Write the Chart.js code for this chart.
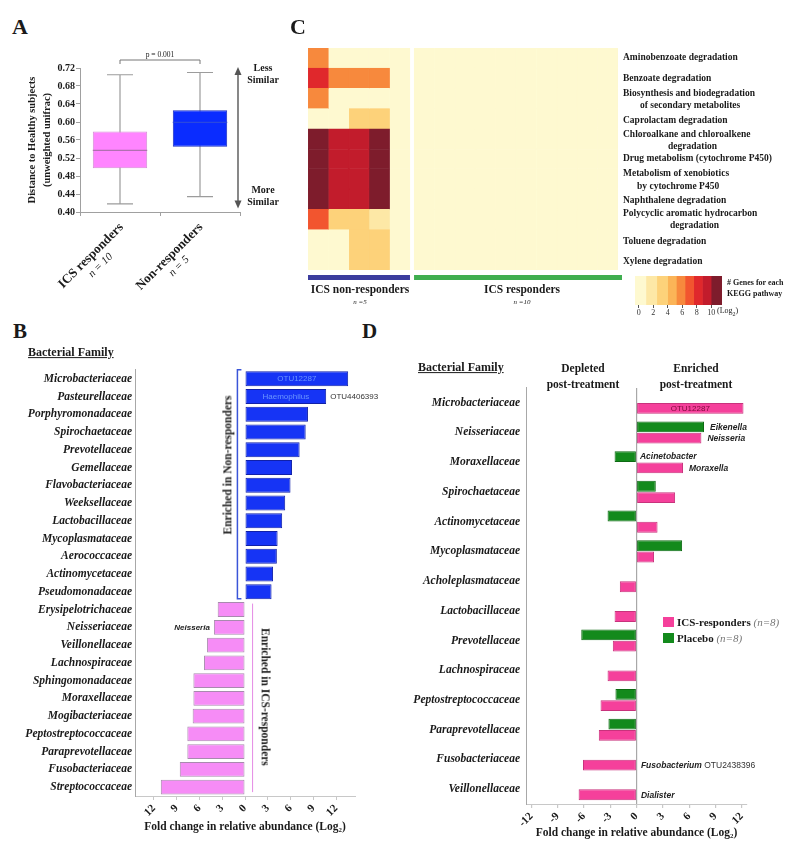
<!DOCTYPE html>
<html>
<head>
<meta charset="utf-8">
<script src="https://cdn.jsdelivr.net/npm/chart.js@4.4.0/dist/chart.umd.min.js"></script>
<style>
  html, body { margin: 0; padding: 0; background: #fff; }
  #fig { position: relative; width: 800px; height: 854px; overflow: hidden; font-family: "Liberation Serif", serif; color: #1a1a1a; }
  #fig canvas { position: absolute; }
  .t { position: absolute; white-space: nowrap; font-weight: bold; line-height: 1.15; }
</style>
</head>
<body>
<div id="fig">
  <canvas id="chartA" width="300" height="169" style="left:0;top:50px"></canvas>
  <canvas id="chartC" width="330" height="250" style="left:300px;top:40px"></canvas>
  <canvas id="chartScale" width="112" height="50" style="left:628px;top:270px"></canvas>
  <canvas id="chartB" width="400" height="480" style="left:0;top:360px"></canvas>
  <canvas id="chartD" width="400" height="479" style="left:400px;top:375px"></canvas>
</div>
<script>
// ---- panel A: distance to healthy subjects ----
const groupsA = ["ICS responders", "Non-responders"];
const nA = [10, 5];
const lowA = [0.418, 0.434];
const q1A = [0.497, 0.545];
const medianA = [0.537, 0.599];
const q3A = [0.579, 0.626];
const highA = [0.705, 0.71];
const ticksA = [0.40, 0.44, 0.48, 0.52, 0.56, 0.60, 0.64, 0.68, 0.72];

// ---- panel B: fold change non-responders vs ICS responders ----
const familiesB = ["Microbacteriaceae", "Pasteurellaceae", "Porphyromonadaceae", "Spirochaetaceae",
  "Prevotellaceae", "Gemellaceae", "Flavobacteriaceae", "Weeksellaceae", "Lactobacillaceae",
  "Mycoplasmataceae", "Aerococcaceae", "Actinomycetaceae", "Pseudomonadaceae", "Erysipelotrichaceae",
  "Neisseriaceae", "Veillonellaceae", "Lachnospiraceae", "Sphingomonadaceae", "Moraxellaceae",
  "Mogibacteriaceae", "Peptostreptococcaceae", "Paraprevotellaceae", "Fusobacteriaceae", "Streptococcaceae"];
const foldB = [13.6, 10.7, 8.3, 8.0, 7.2, 6.2, 6.0, 5.3, 4.9, 4.3, 4.2, 3.7, 3.5,
  -3.6, -4.1, -5.0, -5.4, -6.8, -6.8, -6.9, -7.6, -7.6, -8.6, -11.1];
const ticksB = [-12, -9, -6, -3, 0, 3, 6, 9, 12];

// ---- panel C: genes per KEGG pathway (log2) ----
const pathways = ["Aminobenzoate degradation", "Benzoate degradation",
  "Biosynthesis and biodegradation of secondary metabolites", "Caprolactam degradation",
  "Chloroalkane and chloroalkene degradation", "Drug metabolism (cytochrome P450)",
  "Metabolism of xenobiotics by cytochrome P450", "Naphthalene degradation",
  "Polycyclic aromatic hydrocarbon degradation", "Toluene degradation", "Xylene degradation"];
const nonResponderGenes = [
  [6, 0, 0, 0, 0],
  [8, 6, 6, 6, 0],
  [6, 0, 0, 0, 0],
  [0, 0, 3.5, 3.5, 0],
  [10.5, 9.3, 9.3, 10.5, 0],
  [10.5, 9.3, 9.3, 10.5, 0],
  [10.5, 9.3, 9.3, 10.5, 0],
  [10.5, 9.3, 9.3, 10.5, 0],
  [7, 3.5, 3.5, 2, 0],
  [0, 0, 3.5, 3.5, 0],
  [0, 0, 3.5, 3.5, 0]
];
const responderGenes = [
  [0, 0, 0, 0, 0, 0, 0, 0, 0, 0],
  [0, 0, 0, 0, 0, 0, 0, 0, 0, 0],
  [0, 0, 0, 0, 0, 0, 0, 0, 0, 0],
  [0, 0, 0, 0, 0, 0, 0, 0, 0, 0],
  [0, 0, 0, 0, 0, 0, 0, 0, 0, 0],
  [0, 0, 0, 0, 0, 0, 0, 0, 0, 0],
  [0, 0, 0, 0, 0, 0, 0, 0, 0, 0],
  [0, 0, 0, 0, 0, 0, 0, 0, 0, 0],
  [0, 0, 0, 0, 0, 0, 0, 0, 0, 0],
  [0, 0, 0, 0, 0, 0, 0, 0, 0, 0],
  [0, 0, 0, 0, 0, 0, 0, 0, 0, 0]
];
const scaleStops = [0, 1, 2.5, 4, 5.2, 6.4, 7.6, 8.8, 10];
const scaleColors = ["#fef9d0", "#fde8a6", "#fdd27a", "#fbb457", "#f7893d", "#f2552f", "#e0282c", "#c21c2c", "#7e1c2c"];
const scaleTicks = [0, 2, 4, 6, 8, 10];

// ---- panel D: change post-treatment ----
const familiesD = ["Microbacteriaceae", "Neisseriaceae", "Moraxellaceae", "Spirochaetaceae",
  "Actinomycetaceae", "Mycoplasmataceae", "Acholeplasmataceae", "Lactobacillaceae", "Prevotellaceae",
  "Lachnospiraceae", "Peptostreptococcaceae", "Paraprevotellaceae", "Fusobacteriaceae", "Veillonellaceae"];
const icsD = [12.2, 7.4, 5.3, 4.4, 2.4, 2.0, -1.9, -2.5, -2.7, -3.3, -4.1, -4.3, -6.1, -6.6];
const placeboD = [null, 7.7, -2.5, 2.2, -3.3, 5.2, null, null, -6.3, null, -2.4, -3.2, null, null];
const ticksD = [-12, -9, -6, -3, 0, 3, 6, 9, 12];

const SERIF = '"Liberation Serif", serif';
const SANS = '"Liberation Sans", Arial, sans-serif';
const INK = "#1a1a1a";
Chart.defaults.font.family = SERIF;
Chart.defaults.color = INK;

const fig = document.getElementById("fig");
function addText(x, y, html, css = {}, anchor = "l") {
  const el = document.createElement("div");
  el.className = "t";
  el.innerHTML = html;
  el.style.left = x + "px";
  el.style.top = y + "px";
  el.style.transform = anchor === "c" ? "translate(-50%,-50%)" : "translate(0,-50%)";
  Object.assign(el.style, css);
  fig.appendChild(el);
  return el;
}

function geneColor(v) {
  let c = scaleColors[0];
  scaleStops.forEach((s, i) => { if (v >= s) c = scaleColors[i]; });
  return c;
}

const noHover = { legend: { display: false }, tooltip: { enabled: false } };

// text drawn next to / inside particular bars
const barNotes = {
  id: "barNotes",
  afterDatasetsDraw(chart, args, opts) {
    const ctx = chart.ctx;
    (opts.items || []).forEach(n => {
      const bar = chart.getDatasetMeta(n.ds).data[n.i];
      if (!bar) return;
      ctx.save();
      ctx.textBaseline = "middle";
      let px;
      if (n.at === "inside") { px = (bar.x + bar.base) / 2; ctx.textAlign = "center"; }
      else if (n.at === "before") { px = Math.min(bar.x, bar.base) - 4; ctx.textAlign = "right"; }
      else { px = Math.max(bar.x, bar.base) + (n.gap || 6); ctx.textAlign = "left"; }
      n.parts.forEach(([text, font, color]) => {
        ctx.font = font;
        ctx.fillStyle = color;
        ctx.fillText(text, px, bar.y + 0.5);
        px += ctx.measureText(text).width;
      });
      ctx.restore();
    });
  }
};

// ---- A ----
const PINK_A = "#ff85ff", BLUE_A = "#0a2cff";
const boxWhiskers = {
  id: "boxWhiskers",
  beforeDatasetsDraw(chart) {
    const { ctx, scales: { x, y } } = chart;
    ctx.save();
    ctx.strokeStyle = "#9c9c9c";
    ctx.lineWidth = 1.2;
    groupsA.forEach((g, i) => {
      const cx = x.getPixelForValue(i);
      const lo = y.getPixelForValue(lowA[i]), hi = y.getPixelForValue(highA[i]);
      ctx.beginPath();
      ctx.moveTo(cx, lo); ctx.lineTo(cx, hi);
      ctx.moveTo(cx - 13, lo); ctx.lineTo(cx + 13, lo);
      ctx.moveTo(cx - 13, hi); ctx.lineTo(cx + 13, hi);
      ctx.stroke();
    });
    ctx.restore();
  },
  afterDatasetsDraw(chart) {
    const { ctx, scales: { y } } = chart;
    const bars = chart.getDatasetMeta(0).data;
    ctx.save();
    ctx.lineWidth = 1.2;
    groupsA.forEach((g, i) => {
      const b = bars[i];
      const my = y.getPixelForValue(medianA[i]);
      ctx.strokeStyle = i === 0 ? "#b070b0" : "#2a48e0";
      ctx.beginPath();
      ctx.moveTo(b.x - b.width / 2, my); ctx.lineTo(b.x + b.width / 2, my);
      ctx.stroke();
    });
    ctx.restore();
  },
  afterDraw(chart) {
    const { ctx, chartArea, scales: { x, y } } = chart;
    ctx.save();
    // significance bracket
    const by = chartArea.top - 8;
    ctx.strokeStyle = "#777";
    ctx.lineWidth = 1;
    ctx.beginPath();
    ctx.moveTo(x.getPixelForValue(0), by + 4); ctx.lineTo(x.getPixelForValue(0), by);
    ctx.lineTo(x.getPixelForValue(1), by); ctx.lineTo(x.getPixelForValue(1), by + 4);
    ctx.stroke();
    // similarity arrow
    const ax = chartArea.right - 2;
    const top = y.getPixelForValue(0.72), bot = y.getPixelForValue(0.41);
    ctx.strokeStyle = "#555";
    ctx.fillStyle = "#555";
    ctx.lineWidth = 1.4;
    ctx.beginPath(); ctx.moveTo(ax, top + 4); ctx.lineTo(ax, bot - 4); ctx.stroke();
    ctx.beginPath(); ctx.moveTo(ax, top - 1); ctx.lineTo(ax - 3.5, top + 7); ctx.lineTo(ax + 3.5, top + 7); ctx.fill();
    ctx.beginPath(); ctx.moveTo(ax, bot + 1); ctx.lineTo(ax - 3.5, bot - 7); ctx.lineTo(ax + 3.5, bot - 7); ctx.fill();
    ctx.restore();
  }
};

const chartA = new Chart(document.getElementById("chartA"), {
  type: "bar",
  data: {
    labels: groupsA,
    datasets: [{
      data: groupsA.map((g, i) => [q1A[i], q3A[i]]),
      backgroundColor: [PINK_A, BLUE_A],
      borderColor: ["#d58fd5", "#1a2fc0"],
      borderWidth: 1,
      borderSkipped: false,
      barPercentage: 0.68,
      categoryPercentage: 1
    }]
  },
  options: {
    responsive: false, animation: false, events: [],
    layout: { padding: { top: 18, right: 60, left: 0, bottom: 0 } },
    plugins: noHover,
    scales: {
      x: {
        ticks: { display: false },
        grid: { drawOnChartArea: false, tickLength: 4, color: "#a0a0a0" },
        border: { color: "#a0a0a0" },
        afterFit: s => { s.height = 6; }
      },
      y: {
        min: 0.40, max: 0.72,
        afterBuildTicks: a => { a.ticks = ticksA.map(v => ({ value: v })); },
        ticks: { callback: v => v.toFixed(2), font: { size: 10, weight: "bold" }, padding: 1 },
        grid: { drawOnChartArea: false, tickLength: 4, color: "#a0a0a0" },
        border: { color: "#a0a0a0" },
        title: {
          display: true,
          text: ["Distance to Healthy subjects", "(unweighted unifrac)"],
          font: { size: 10.5, weight: "bold", lineHeight: 1.4 },
          padding: { top: 25, bottom: 0 }
        },
        afterFit: s => { s.width = 80; }
      }
    }
  },
  plugins: [boxWhiskers]
});

addText(12, 27, "A", { fontSize: "22px" });
addText(160, 55, "p = 0.001", { fontSize: "7.5px", fontWeight: "normal" }, "c");
addText(263, 74, "Less<br>Similar", { fontSize: "10px", textAlign: "center", lineHeight: "12px" }, "c");
addText(263, 196, "More<br>Similar", { fontSize: "10px", textAlign: "center", lineHeight: "12px" }, "c");
groupsA.forEach((g, i) => {
  const el = document.createElement("div");
  el.className = "t";
  el.innerHTML = g + '<br><span style="font-style:italic;font-weight:normal;font-size:11px">n = ' + nA[i] + "</span>";
  const px = chartA.scales.x.getPixelForValue(i) - 4;
  Object.assign(el.style, {
    right: (800 - px) + "px", top: "220px", fontSize: "13px", lineHeight: "13px",
    textAlign: "center", transformOrigin: "100% 0", transform: "rotate(-45deg)"
  });
  fig.appendChild(el);
});

// ---- C heatmap ----
const nNR = nonResponderGenes[0].length;
const nR = responderGenes[0].length;
const colGap = 0.2;
const heatCols = [];
for (let c = 0; c < nNR + nR; c++) {
  const x0 = c < nNR ? c : c + colGap;
  const vals = pathways.map((p, r) => c < nNR ? nonResponderGenes[r][c] : responderGenes[r][c - nNR]);
  heatCols.push({
    data: pathways.map(() => [x0, x0 + 1]),
    backgroundColor: vals.map(geneColor),
    borderColor: vals.map(geneColor),
    borderWidth: 0.6,
    borderSkipped: false,
    grouped: false,
    barPercentage: 1,
    categoryPercentage: 1
  });
}
const groupBars = {
  id: "groupBars",
  afterDraw(chart) {
    const { ctx, chartArea, scales: { x } } = chart;
    const yb = chartArea.bottom + 5;
    ctx.save();
    ctx.fillStyle = "#3b3c9e";
    ctx.fillRect(x.getPixelForValue(0), yb, x.getPixelForValue(nNR) - x.getPixelForValue(0), 5);
    ctx.fillStyle = "#3fae4f";
    ctx.fillRect(x.getPixelForValue(nNR + colGap), yb, x.getPixelForValue(nNR + nR + colGap) - x.getPixelForValue(nNR + colGap) + 4, 5);
    ctx.restore();
  }
};
new Chart(document.getElementById("chartC"), {
  type: "bar",
  data: { labels: pathways, datasets: heatCols },
  options: {
    indexAxis: "y", responsive: false, animation: false, events: [],
    layout: { padding: { left: 8, top: 8, right: 12, bottom: 20 } },
    plugins: noHover,
    scales: {
      x: { type: "linear", min: 0, max: nNR + nR + colGap, display: false },
      y: { display: false }
    }
  },
  plugins: [groupBars]
});

const scaleMin = -0.5, scaleMax = 11.5;
new Chart(document.getElementById("chartScale"), {
  type: "bar",
  data: {
    labels: [""],
    datasets: scaleStops.map((s, i) => ({
      data: [[i === 0 ? scaleMin : s, i < scaleStops.length - 1 ? scaleStops[i + 1] : scaleMax]],
      backgroundColor: scaleColors[i],
      borderWidth: 0, grouped: false, barPercentage: 1, categoryPercentage: 1
    }))
  },
  options: {
    indexAxis: "y", responsive: false, animation: false, events: [],
    layout: { padding: { left: 7, right: 18, top: 6, bottom: 0 } },
    plugins: noHover,
    scales: {
      x: {
        type: "linear", min: scaleMin, max: scaleMax,
        afterBuildTicks: a => { a.ticks = scaleTicks.map(v => ({ value: v })); },
        ticks: { font: { size: 8 }, color: "#333", padding: 0, maxRotation: 0 },
        grid: { drawOnChartArea: false, tickLength: 3, color: "#555" },
        border: { display: false },
        afterFit: s => { s.height = 15; }
      },
      y: { display: false }
    }
  }
});

addText(290, 27, "C", { fontSize: "22px" });
const pathLines = [
  ["Aminobenzoate degradation", 623, 57], ["Benzoate degradation", 623, 78],
  ["Biosynthesis and biodegradation", 623, 93], ["of secondary metabolites", 640, 105],
  ["Caprolactam degradation", 623, 120], ["Chloroalkane and chloroalkene", 623, 134],
  ["degradation", 668, 146], ["Drug metabolism (cytochrome P450)", 623, 158],
  ["Metabolism of xenobiotics", 623, 173], ["by cytochrome P450", 637, 186],
  ["Naphthalene degradation", 623, 200], ["Polycyclic aromatic hydrocarbon", 623, 213],
  ["degradation", 670, 225], ["Toluene degradation", 623, 241], ["Xylene degradation", 623, 261]
];
pathLines.forEach(([s, x, y]) => addText(x, y, s, { fontSize: "9.5px" }));
addText(360, 290, "ICS non-responders", { fontSize: "11.5px" }, "c");
addText(360, 302, "n =5", { fontSize: "7px", fontStyle: "italic", fontWeight: "normal" }, "c");
addText(522, 290, "ICS responders", { fontSize: "11.5px" }, "c");
addText(522, 302, "n =10", { fontSize: "7px", fontStyle: "italic", fontWeight: "normal" }, "c");
addText(727, 283, "# Genes for each", { fontSize: "8px" });
addText(727, 294, "KEGG pathway", { fontSize: "8px" });
addText(717, 312, "(Log<sub style='font-size:6px'>2</sub>)", { fontSize: "8px", fontWeight: "normal" });

// ---- B ----
const BLUE_B = "#1634f5", PINK_B = "#f68cf6";
const bBrackets = {
  id: "bBrackets",
  afterDraw(chart) {
    const { ctx, scales: { x, y } } = chart;
    const lastUp = foldB.filter(v => v > 0).length - 1;
    ctx.save();
    const bx = x.getPixelForValue(-1);
    const t = y.getPixelForValue(0) - 9, b = y.getPixelForValue(lastUp) + 7;
    ctx.strokeStyle = "#3a55d8";
    ctx.lineWidth = 1.5;
    ctx.beginPath();
    ctx.moveTo(bx + 4, t); ctx.lineTo(bx, t); ctx.lineTo(bx, b); ctx.lineTo(bx + 4, b);
    ctx.stroke();
    const px = x.getPixelForValue(1);
    ctx.strokeStyle = "#e48ae4";
    ctx.lineWidth = 1;
    ctx.beginPath();
    ctx.moveTo(px, y.getPixelForValue(lastUp + 1) - 6);
    ctx.lineTo(px, y.getPixelForValue(foldB.length - 1) + 5);
    ctx.stroke();
    ctx.restore();
  }
};
new Chart(document.getElementById("chartB"), {
  type: "bar",
  data: {
    labels: familiesB,
    datasets: [{
      data: foldB,
      backgroundColor: foldB.map(v => v > 0 ? BLUE_B : PINK_B),
      borderColor: foldB.map(v => v > 0 ? "#1020a8" : "#a88aae"),
      borderWidth: 1,
      borderSkipped: false,
      barPercentage: 0.84,
      categoryPercentage: 1
    }]
  },
  options: {
    indexAxis: "y", responsive: false, animation: false, events: [],
    layout: { padding: { top: 7, right: 45, left: 0, bottom: 0 } },
    plugins: Object.assign({}, noHover, {
      barNotes: {
        items: [
          { ds: 0, i: 0, at: "inside", parts: [["OTU12287", "8px " + SANS, "#6a95ff"]] },
          { ds: 0, i: 1, at: "inside", parts: [["Haemophilus", "8px " + SANS, "#6a95ff"]] },
          { ds: 0, i: 1, at: "after", gap: 4, parts: [["OTU4406393", "8px " + SANS, "#333"]] },
          { ds: 0, i: 14, at: "before", parts: [["Neisseria", "italic bold 8px " + SANS, "#222"]] }
        ]
      }
    }),
    scales: {
      x: {
        min: -14.5, max: 14.5,
        afterBuildTicks: a => { a.ticks = ticksB.map(v => ({ value: v })); },
        ticks: { callback: v => Math.abs(v), font: { size: 11, weight: "bold" }, minRotation: 45, maxRotation: 45, padding: 2 },
        grid: { drawOnChartArea: false, tickLength: 4, color: "#c8c8c8" },
        border: { color: "#c8c8c8" },
        title: {
          display: true, text: "Fold change in relative abundance (Log₂)",
          font: { size: 11.5, weight: "bold" }, padding: { top: 0, bottom: 6 }
        },
        afterFit: s => { s.height = 44; }
      },
      y: {
        grid: { display: false, drawTicks: false },
        border: { color: "#a8a8a8" },
        ticks: { font: { size: 11.5, weight: "bold", style: "italic" }, padding: 3 },
        afterFit: s => { s.width = 135; }
      }
    }
  },
  plugins: [barNotes, bBrackets]
});

addText(13, 331, "B", { fontSize: "21px" });
addText(28, 353, "Bacterial Family", { fontSize: "12px", textDecoration: "underline" });
addText(228, 465, "Enriched in Non-responders", { fontSize: "11.5px", transform: "translate(-50%,-50%) rotate(-90deg)" });
addText(265, 697, "Enriched in ICS-responders", { fontSize: "11.5px", transform: "translate(-50%,-50%) rotate(90deg)" });

// ---- D ----
const PINK_D = "#f5409b", GREEN_D = "#138a1c";
new Chart(document.getElementById("chartD"), {
  type: "bar",
  data: {
    labels: familiesD,
    datasets: [
      { label: "Placebo (n=8)", data: placeboD, backgroundColor: GREEN_D, borderColor: "#0d6a13", borderWidth: 1, borderSkipped: false },
      { label: "ICS-responders (n=8)", data: icsD, backgroundColor: PINK_D, borderColor: "#c8327c", borderWidth: 1, borderSkipped: false }
    ]
  },
  options: {
    indexAxis: "y", responsive: false, animation: false, events: [],
    datasets: { bar: { categoryPercentage: 0.76, barPercentage: 0.96 } },
    layout: { padding: { top: 7, right: 53, left: 0, bottom: 0 } },
    plugins: Object.assign({}, noHover, {
      barNotes: {
        items: [
          { ds: 1, i: 0, at: "inside", parts: [["OTU12287", "8px " + SANS, "#7a0a3a"]] },
          { ds: 0, i: 1, at: "after", parts: [["Eikenella", "italic bold 8.5px " + SANS, "#222"]] },
          { ds: 1, i: 1, at: "after", parts: [["Neisseria", "italic bold 8.5px " + SANS, "#222"]] },
          { ds: 0, i: 2, at: "after", gap: 4, parts: [["Acinetobacter", "italic bold 8.5px " + SANS, "#222"]] },
          { ds: 1, i: 2, at: "after", parts: [["Moraxella", "italic bold 8.5px " + SANS, "#222"]] },
          { ds: 1, i: 12, at: "after", gap: 5, parts: [["Fusobacterium", "italic bold 8.5px " + SANS, "#222"], [" OTU2438396", "8.5px " + SANS, "#333"]] },
          { ds: 1, i: 13, at: "after", gap: 5, parts: [["Dialister", "italic bold 8.5px " + SANS, "#222"]] }
        ]
      }
    }),
    scales: {
      x: {
        min: -12.6, max: 12.6,
        afterBuildTicks: a => { a.ticks = ticksD.map(v => ({ value: v })); },
        ticks: { font: { size: 11, weight: "bold" }, minRotation: 45, maxRotation: 45, padding: 2 },
        grid: {
          color: c => (c.tick && c.tick.value === 0 ? "#a8a8a8" : "rgba(0,0,0,0)"),
          tickColor: "#c8c8c8", tickLength: 4, lineWidth: 1.2
        },
        border: { color: "#c8c8c8" },
        title: {
          display: true, text: "Fold change in relative abundance (Log₂)",
          font: { size: 11.5, weight: "bold" }, padding: { top: 0, bottom: 14 }
        },
        afterFit: s => { s.height = 50; }
      },
      y: {
        grid: { display: false, drawTicks: false },
        border: { color: "#a8a8a8" },
        ticks: { font: { size: 11.5, weight: "bold", style: "italic" }, padding: 6 },
        afterFit: s => { s.width = 126; }
      }
    }
  },
  plugins: [barNotes]
});

addText(362, 331, "D", { fontSize: "21px" });
addText(418, 368, "Bacterial Family", { fontSize: "12px", textDecoration: "underline" });
addText(583, 376, "Depleted<br>post-treatment", { fontSize: "11.5px", textAlign: "center", lineHeight: "16px" }, "c");
addText(696, 376, "Enriched<br>post-treatment", { fontSize: "11.5px", textAlign: "center", lineHeight: "16px" }, "c");
[["ICS-responders", PINK_D, 622], ["Placebo", GREEN_D, 638]].forEach(([name, col, y]) => {
  const sw = document.createElement("div");
  Object.assign(sw.style, { position: "absolute", left: "663px", top: (y - 5) + "px", width: "11px", height: "10px", background: col });
  fig.appendChild(sw);
  addText(677, y, name + ' <span style="font-style:italic;font-weight:normal;color:#777">(n=8)</span>', { fontSize: "11px" });
});
</script>
</body>
</html>
